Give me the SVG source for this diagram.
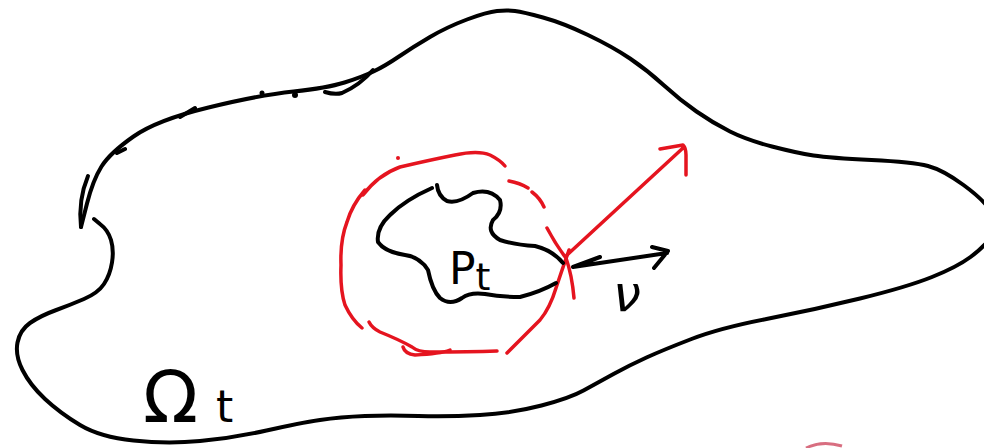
<svg xmlns="http://www.w3.org/2000/svg" width="984" height="448" viewBox="0 0 984 448">
<style>
.k{fill:none;stroke:#000;stroke-width:4;stroke-linecap:round;stroke-linejoin:round}
.r{fill:none;stroke:#e5141f;stroke-width:3.5;stroke-linecap:round;stroke-linejoin:round}
.t{font-family:"DejaVu Sans","Liberation Sans",sans-serif;fill:#000}
</style>
<rect width="984" height="448" fill="#fff"/>
<g id="omega-domain">
<path class="k" d="M81,227 L87,203.5 Q93,180 101.5,166.5 Q110,153 133.5,136.5 Q157,120 208.5,107.5 Q260,95 293.5,91.5 Q327,88 344.5,82.5 Q362,77 373.5,71.5 Q385,66 399,56.5 Q413,47 430,37 Q447,27 467,19.5 Q487,12 497,11 Q507,10 515,11 Q523,12 543,17.5 Q563,23 588,35 Q613,47 630,58.5 Q647,70 663.5,85 Q680,100 696.5,111.5 Q713,123 730,131.5 Q747,140 772,146.5 Q797,153 813.5,155.5 Q830,158 871.5,160 Q913,162 928,166 Q943,170 963.5,185 Q984,200 992,212.5 Q1000,225 992,236 Q984,247 970.5,257 Q957,267 932,277 Q907,287 860,298.5 Q813,310 766.5,319 Q720,328 691.5,339 Q663,350 646.5,357.5 Q630,365 613.5,374 Q597,383 583.5,390.5 Q570,398 541.5,405.5 Q513,413 480,415 Q447,417 418.5,416 Q390,415 365,416 Q340,417 320,420 Q300,423 266.5,430.5 Q233,438 200,441 Q167,444 133.5,440.5 Q100,437 80,425 Q60,413 45,399 Q30,385 22.5,370 Q15,355 17.5,342.5 Q20,330 30,323 Q40,316 55,310.5 Q70,305 84,299 Q98,293 104,284 Q110,275 112,262.5 Q114,250 111,240 Q108,230 100,224 L94,219"/>
<path class="k" d="M88,176 Q78,200 81,227"/>
<path class="k" d="M117,153 L125,149 M180,117 L195,108 M325,92 Q335,95 342,93 Q360,85 373,70"/>
<circle cx="262" cy="93" r="2.5"/>
<circle cx="295" cy="95" r="3"/>
<text class="t" x="143" y="422" font-size="72">Ω<tspan font-size="44" dx="18">t</tspan></text>
</g>
<g id="ball">
<path class="r" d="M363,195 Q378,175 400,167 Q430,160 455,155 Q478,150 490,155 Q500,160 505,166"/>
<path class="r" d="M509,181 Q520,183 528,188 M532,192 Q540,198 544,207"/>
<circle cx="398" cy="158" r="2" fill="#e5141f"/>
<path class="r" d="M365,190 Q352,205 347,222 Q340,240 341,265 Q340,290 345,305 Q352,320 362,328"/>
<path class="r" d="M369,322 Q372,328 380,332 Q400,340 412,347 Q418,352 430,352 Q470,352 497,351"/>
<path class="r" d="M403,347 Q405,354 415,355 Q440,354 450,350"/>
<path class="r" d="M547,228 Q556,245 566,258 Q572,275 574,298"/>
<path class="r" d="M569,250 Q562,270 556,288 Q550,308 540,320 Q522,338 507,353"/>
</g>
<g id="particle">
<path class="k" d="M437,185 Q438,196 447,201 Q458,204 473,193 Q490,188 500,200 Q503,212 493,220 Q486,232 500,240 Q515,245 535,246 Q552,250 563,263"/>
<path class="k" d="M556,283 Q540,292 520,297 Q500,297 485,294 Q470,292 462,298 Q450,306 440,298 Q432,290 428,270 Q420,257 405,255 Q385,252 378,242 Q376,228 390,215 Q405,200 432,188"/>
<text class="t" x="449" y="284" font-size="44">P<tspan font-size="38" dy="6">t</tspan></text>
</g>
<g id="connectors">
<path class="r" d="M567,255 L683,148 M660,149 L683,145 Q686,148 686,155 L686,175"/>
<path class="k" d="M600,257 L573,267 L667,253 M652,247 L668,251 L654,268"/>
<text class="t" x="613" y="311" font-size="50" font-style="italic">ν</text>
</g>
<path d="M806,448 Q822,440 842,446" fill="none" stroke="#c8304a" stroke-width="3" opacity="0.7"/>
</svg>
